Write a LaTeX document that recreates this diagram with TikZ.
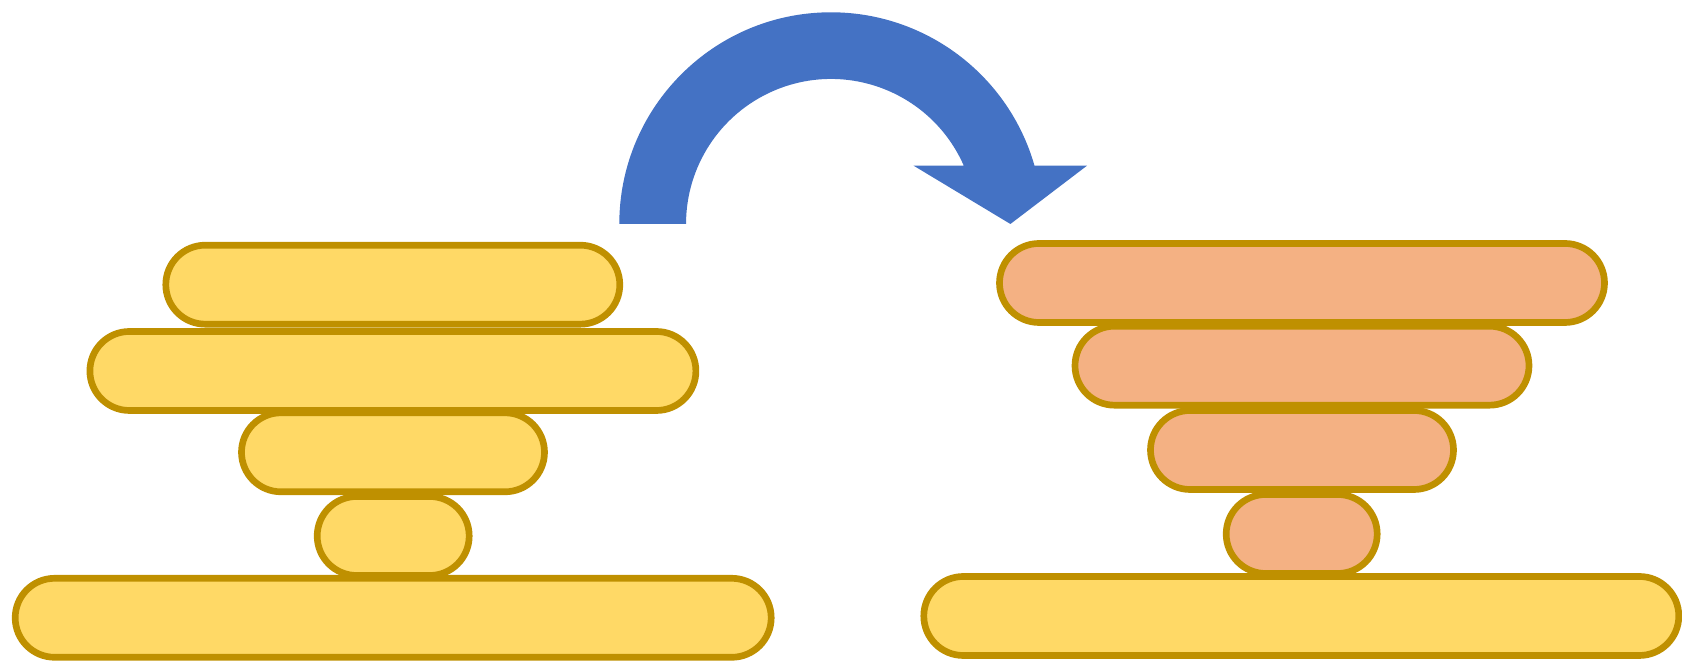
\documentclass[tikz,border=0pt]{standalone}
\usepackage{tikz}
\usetikzlibrary{shapes.misc}

\definecolor{diskfill}{HTML}{FFD966}
\definecolor{diskedge}{HTML}{BF9000}
\definecolor{movedfill}{HTML}{F4B183}
\definecolor{arrowblue}{HTML}{4472C4}

\tikzset{
  disk/.style={rounded rectangle,draw=diskedge,line width=1.9pt,fill=diskfill,
    minimum height=0.79cm,inner sep=0pt,outer sep=0pt},
  moved/.style={disk,fill=movedfill},
}

\begin{document}
\begin{tikzpicture}
  \useasboundingbox (0,0) rectangle (16.82,-6.65);
  % unsorted stack
  \node[disk,minimum width=7.56cm] (base1) at (3.932,-6.178) {};
  \node[disk,minimum width=1.52cm] (l4) at (3.932,-5.36) {};
  \node[disk,minimum width=3.03cm] (l3) at (3.93,-4.523) {};
  \node[disk,minimum width=6.06cm] (l2) at (3.929,-3.71) {};
  \node[disk,minimum width=4.54cm] (l1) at (3.928,-2.847) {};
  % sorted stack
  \node[disk,minimum width=7.55cm] (base2) at (13.013,-6.16) {};
  \node[moved,minimum width=1.51cm] (r4) at (13.017,-5.34) {};
  \node[moved,minimum width=3.03cm] (r3) at (13.02,-4.50) {};
  \node[moved,minimum width=4.54cm] (r2) at (13.02,-3.657) {};
  \node[moved,minimum width=6.05cm] (r1) at (13.02,-2.83) {};
  % curved block arrow
  \fill[arrowblue] (6.193,-2.24) arc[start angle=180,end angle=16,radius=2.117]
    -- (10.87,-1.657) -- (10.104,-2.24) -- (9.136,-1.657) -- (9.638,-1.657)
    arc[start angle=23.7,end angle=180,radius=1.45] -- cycle;
\end{tikzpicture}
\end{document}
